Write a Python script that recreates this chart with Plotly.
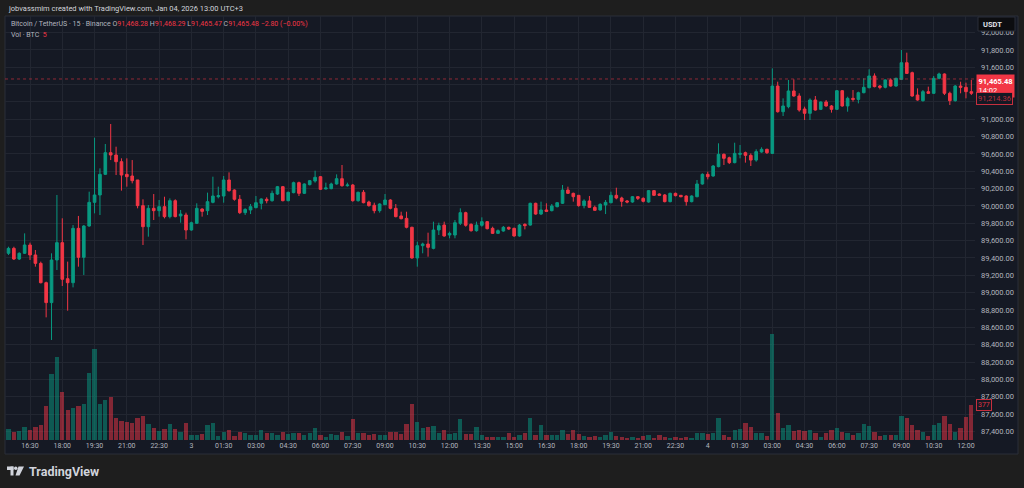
import plotly.graph_objects as go
import pandas as pd

# ---------------- data ----------------
start_time = "2026-01-02 15:30"
open_ = [89454, 89511, 89388, 89454, 89550, 89435, 89338, 89115, 88885, 89377,
         89577, 89161, 89115, 89742, 89408, 89769, 90042, 90127, 90365, 90615,
         90588, 90511, 90365, 90346, 90300, 90004, 89761, 89973, 89946, 89992,
         89877, 90061, 89885, 89896, 89723, 89800, 89965, 89946, 90042, 90107,
         90115, 90300, 90184, 90077, 89923, 89954, 89981, 90031, 90077, 90061,
         90138, 90223, 90061, 90154, 90269, 90146, 90246, 90288, 90338, 90196,
         90200, 90254, 90315, 90234, 90242, 90061, 90158, 90046, 90008, 89946,
         90015, 90069, 89973, 89885, 89857, 89754, 89400, 89542, 89561, 89511,
         89723, 89780, 89665, 89665, 89800, 89923, 89788, 89715, 89777, 89819,
         89742, 89684, 89711, 89754, 89742, 89654, 89788, 89780, 90031, 89907,
         89954, 89946, 89992, 90031, 90184, 90146, 90123, 90004, 90058, 89984,
         89954, 90011, 90038, 90123, 90092, 90058, 90046, 90107, 90088, 90046,
         90177, 90138, 90127, 90050, 90146, 90123, 90115, 90050, 90107, 90254,
         90365, 90346, 90454, 90596, 90557, 90500, 90596, 90615, 90584, 90530,
         90623, 90654, 90607, 91384, 91088, 91146, 91327, 91269, 91119, 91069,
         91223, 91115, 91200, 91154, 91115, 91330, 91154, 91242, 91230, 91307,
         91365, 91500, 91384, 91369, 91454, 91384, 91461, 91653, 91538, 91280,
         91215, 91319, 91300, 91473, 91523, 91300, 91215, 91384, 91369, 91319]
high = [89530, 89530, 89465, 89684, 89577, 89492, 89358, 89127, 89454, 90127,
        89858, 89358, 89780, 89885, 89780, 90165, 90788, 90434, 90715, 90946,
        90684, 90550, 90550, 90530, 90300, 90077, 90011, 90138, 90069, 90107,
        90088, 90077, 89954, 89923, 89819, 90031, 89973, 90154, 90338, 90223,
        90346, 90388, 90192, 90127, 89973, 90023, 90115, 90088, 90100, 90177,
        90231, 90231, 90165, 90281, 90281, 90261, 90300, 90407, 90346, 90269,
        90269, 90365, 90473, 90269, 90254, 90165, 90184, 90061, 90038, 90031,
        90138, 90077, 90023, 89934, 89934, 89761, 89588, 89577, 89692, 89819,
        89807, 89819, 89704, 89838, 89973, 89934, 89800, 89819, 89869, 89827,
        89761, 89730, 89769, 89761, 89750, 89792, 89800, 90038, 90038, 90050,
        90031, 90023, 90046, 90242, 90223, 90154, 90127, 90077, 90115, 90004,
        90031, 90069, 90165, 90211, 90107, 90069, 90115, 90115, 90100, 90184,
        90184, 90146, 90138, 90154, 90154, 90127, 90123, 90123, 90300, 90377,
        90396, 90473, 90723, 90607, 90569, 90730, 90704, 90627, 90607, 90654,
        90677, 90661, 91588, 91434, 91242, 91454, 91461, 91300, 91146, 91242,
        91269, 91207, 91223, 91165, 91338, 91338, 91261, 91338, 91319, 91473,
        91577, 91530, 91396, 91461, 91473, 91480, 91800, 91769, 91550, 91357,
        91338, 91377, 91500, 91538, 91530, 91319, 91396, 91434, 91423, 91454]
low = [89435, 89377, 89377, 89446, 89377, 89300, 89107, 88715, 88454, 89261,
       89077, 88792, 89061, 89300, 89204, 89761, 89915, 89896, 90357, 90530,
       90357, 90177, 90223, 90261, 89973, 89550, 89646, 89838, 89877, 89857,
       89857, 89869, 89807, 89615, 89715, 89792, 89877, 89896, 90031, 90088,
       90038, 90165, 90061, 89907, 89896, 89907, 89973, 89961, 90031, 90050,
       90127, 90054, 90054, 90146, 90115, 90138, 90238, 90269, 90184, 90192,
       90192, 90246, 90223, 90223, 90050, 90050, 90031, 89992, 89915, 89923,
       90011, 89961, 89869, 89846, 89742, 89392, 89300, 89454, 89415, 89500,
       89665, 89646, 89627, 89627, 89780, 89761, 89704, 89704, 89761, 89730,
       89677, 89677, 89704, 89723, 89646, 89646, 89730, 89773, 89900, 89896,
       89934, 89938, 89984, 90023, 90138, 90050, 89992, 89973, 89981, 89946,
       89946, 89907, 90031, 90077, 89992, 90031, 90038, 90069, 90042, 90038,
       90115, 90119, 90042, 90042, 90111, 90100, 90004, 90042, 90100, 90246,
       90307, 90338, 90446, 90473, 90484, 90492, 90550, 90500, 90461, 90511,
       90615, 90600, 90600, 91077, 91038, 91127, 91261, 91088, 90992, 90992,
       91100, 91107, 91146, 91077, 91107, 91146, 91088, 91204, 91184, 91300,
       91357, 91369, 91346, 91357, 91377, 91377, 91454, 91523, 91261, 91215,
       91204, 91292, 91292, 91461, 91280, 91165, 91204, 91300, 91242, 91280]
close = [89511, 89388, 89454, 89550, 89435, 89338, 89115, 88885, 89377, 89577,
         89154, 89115, 89742, 89408, 89769, 90042, 90127, 90365, 90615, 90588,
         90511, 90357, 90338, 90292, 90004, 89761, 89973, 89946, 89992, 89877,
         90061, 89877, 89907, 89723, 89807, 89973, 89938, 90050, 90115, 90119,
         90300, 90177, 90077, 89923, 89961, 89992, 90038, 90081, 90061, 90146,
         90223, 90061, 90158, 90269, 90146, 90254, 90292, 90331, 90192, 90208,
         90254, 90315, 90234, 90242, 90061, 90158, 90038, 90004, 89946, 90023,
         90069, 89973, 89877, 89853, 89754, 89400, 89542, 89561, 89523, 89723,
         89773, 89654, 89684, 89807, 89923, 89777, 89715, 89780, 89819, 89738,
         89684, 89715, 89754, 89734, 89654, 89780, 89773, 90031, 89907, 89954,
         89938, 90000, 90038, 90184, 90146, 90107, 90004, 90058, 89984, 89950,
         90019, 90042, 90123, 90092, 90054, 90046, 90107, 90088, 90054, 90177,
         90123, 90123, 90050, 90146, 90119, 90107, 90050, 90115, 90254, 90365,
         90338, 90461, 90596, 90550, 90500, 90607, 90607, 90584, 90530, 90627,
         90654, 90615, 91384, 91088, 91154, 91327, 91269, 91107, 91069, 91223,
         91107, 91200, 91154, 91115, 91330, 91154, 91242, 91230, 91307, 91369,
         91500, 91377, 91369, 91454, 91384, 91473, 91653, 91530, 91269, 91223,
         91319, 91300, 91473, 91523, 91300, 91215, 91384, 91369, 91319, 91300]
volume = [115, 90, 97, 140, 108, 140, 162, 366, 714, 894,
          517, 327, 348, 363, 384, 718, 976, 391, 431, 467,
          233, 205, 197, 187, 233, 255, 176, 126, 97, 115,
          169, 115, 86, 187, 54, 54, 68, 158, 187, 43,
          90, 104, 43, 90, 79, 54, 54, 104, 79, 72,
          54, 90, 61, 75, 72, 54, 75, 133, 54, 32,
          61, 54, 90, 43, 223, 72, 79, 54, 68, 54,
          54, 90, 86, 68, 169, 384, 197, 126, 144, 147,
          79, 104, 61, 79, 230, 68, 68, 144, 50, 36,
          36, 32, 32, 72, 32, 50, 72, 241, 54, 158,
          54, 50, 50, 104, 61, 104, 68, 43, 32, 43,
          36, 54, 86, 43, 36, 25, 32, 25, 39, 50,
          25, 50, 32, 25, 36, 18, 32, 25, 72, 79,
          68, 72, 233, 50, 36, 104, 119, 187, 144, 72,
          72, 43, 1138, 294, 133, 162, 97, 108, 97, 104,
          72, 32, 79, 108, 133, 86, 79, 50, 79, 169,
          151, 86, 43, 54, 54, 50, 258, 241, 158, 104,
          86, 43, 158, 187, 255, 169, 90, 133, 248, 377]
tick_labels = ["16:30", "18:00", "19:30", "21:00", "22:30", "3", "01:30", "03:00",
               "04:30", "06:00", "07:30", "09:00", "10:30", "12:00", "13:30", "15:00",
               "16:30", "18:00", "19:30", "21:00", "22:30", "4", "01:30", "03:00",
               "04:30", "06:00", "07:30", "09:00", "10:30", "12:00"]
first_tick = "2026-01-02 16:30"
price_ticks = [87400, 87600, 87800, 88000, 88200, 88400, 88600, 88800, 89000, 89200,
               89400, 89600, 89800, 90000, 90200, 90400, 90600, 90800, 91000, 91200,
               91400, 91600, 91800, 92000]
hidden_price_ticks = [91200, 91400]   # covered by the price tags in the reference
header_ohlc = ["91,468.28", "91,468.29", "91,465.47", "91,465.48"]
header_change = "\u22122.80 (\u22120.00%)"
header_vol = "5"
last_price = 91465.48
last_price_text = "91,465.48"
countdown_text = "14:02"
second_price = 91214.36
second_price_text = "91,214.36"
last_volume = 377

# ---------------- styling ----------------
UP = "#089981"
DOWN = "#f23645"
UP_VOL = "rgba(8,153,129,0.5)"
DOWN_VOL = "rgba(242,54,69,0.5)"
PANEL = "#151924"
OUTER = "#1e1e1e"
GRID = "#222631"
TXT = "#b2b5be"
FONT = "Roboto"

W, H = 1024, 488
L_M, R_M, T_M, B_M = 5, 49, 16, 48
PW, PH = W - L_M - R_M, H - T_M - B_M


def pxx(x):
    return (x - L_M) / PW


def pxy(y):
    return (H - B_M - y) / PH


times = pd.date_range(start_time, periods=len(close), freq="15min")
tick_times = pd.date_range(first_tick, periods=len(tick_labels), freq="90min")
step = pd.Timedelta(minutes=15)
x_range = [times[0] - 0.65 * step, times[0] + 179.68 * step]

vol_colors = [UP_VOL if c >= o else DOWN_VOL for o, c in zip(open_, close)]
price_tick_text = ["" if v in hidden_price_ticks else f"{v:,.2f}" for v in price_ticks]

fig = go.Figure()
fig.add_trace(go.Bar(
    x=times, y=volume, yaxis="y2", marker=dict(color=vol_colors, line=dict(width=0)),
    width=0.8 * step.total_seconds() * 1000, showlegend=False, hoverinfo="skip"))
fig.add_trace(go.Candlestick(
    x=times, open=open_, high=high, low=low, close=close,
    increasing=dict(line=dict(color=UP, width=1), fillcolor=UP),
    decreasing=dict(line=dict(color=DOWN, width=1), fillcolor=DOWN),
    whiskerwidth=0, showlegend=False, yaxis="y"))

shapes = [
    # chart panel
    dict(type="rect", xref="paper", yref="paper", x0=pxx(5), x1=pxx(1018),
         y0=pxy(454), y1=pxy(16), fillcolor=PANEL, line=dict(color="#2a2e39", width=1),
         layer="below"),
    # last price dotted line
    dict(type="line", xref="paper", yref="y", x0=0, x1=1, y0=last_price, y1=last_price,
         line=dict(color="rgba(242,54,69,0.55)", width=1, dash="dot")),
    # USDT box
    dict(type="rect", xref="paper", yref="paper", x0=pxx(978), x1=pxx(1015),
         y0=pxy(31), y1=pxy(17), fillcolor="#0c0d10", line=dict(color="#2a2e39", width=1)),
    # TradingView logo glyph
    dict(type="rect", xref="paper", yref="paper", x0=pxx(7), x1=pxx(13.5),
         y0=pxy(470), y1=pxy(466.5), fillcolor="#d1d4dc", line=dict(width=0)),
    dict(type="rect", xref="paper", yref="paper", x0=pxx(10.5), x1=pxx(13.5),
         y0=pxy(475.5), y1=pxy(466.5), fillcolor="#d1d4dc", line=dict(width=0)),
    dict(type="circle", xref="paper", yref="paper", x0=pxx(14), x1=pxx(17.5),
         y0=pxy(470), y1=pxy(466.5), fillcolor="#d1d4dc", line=dict(width=0)),
    dict(type="path", xref="paper", yref="paper",
         path=(f"M {pxx(18.5)} {pxy(466.5)} L {pxx(24)} {pxy(466.5)} "
               f"L {pxx(19.5)} {pxy(475.5)} L {pxx(15.5)} {pxy(475.5)} Z"),
         fillcolor="#d1d4dc", line=dict(width=0)),
]

red = lambda s: f"<span style='color:{DOWN}'>{s}</span>"
legend_line = ("Bitcoin / TetherUS \u00b7 15 \u00b7 Binance "
               f"O{red(header_ohlc[0])} H{red(header_ohlc[1])} "
               f"L{red(header_ohlc[2])} C{red(header_ohlc[3])} {red(header_change)}")

annotations = [
    dict(text="jobvassmim created with TradingView.com, Jan 04, 2026 13:00 UTC+3",
         xref="paper", yref="paper", x=pxx(6), y=pxy(8), xanchor="left", yanchor="middle",
         showarrow=False, font=dict(family=FONT, size=7.5, color="#d1d4dc")),
    dict(text=legend_line, xref="paper", yref="paper", x=pxx(9), y=pxy(24),
         xanchor="left", yanchor="middle", showarrow=False,
         font=dict(family=FONT, size=7, color=TXT)),
    dict(text=f"Vol \u00b7 BTC  {red(header_vol)}", xref="paper", yref="paper",
         x=pxx(9), y=pxy(35), xanchor="left", yanchor="middle", showarrow=False,
         font=dict(family=FONT, size=7, color=TXT)),
    dict(text="<b>USDT</b>", xref="paper", yref="paper", x=pxx(981), y=pxy(24),
         xanchor="left", yanchor="middle", showarrow=False,
         font=dict(family=FONT, size=7.5, color="#e0e3eb")),
    dict(text=f"<b>{last_price_text}</b><br>{countdown_text}", xref="paper", yref="y",
         x=pxx(976), y=last_price, xanchor="left", yanchor="top", yshift=5,
         align="left", showarrow=False, bgcolor=DOWN, borderpad=1.5,
         font=dict(family=FONT, size=7.5, color="#ffffff")),
    dict(text=second_price_text, xref="paper", yref="paper", x=pxx(976), y=pxy(98.5),
         xanchor="left", yanchor="middle", showarrow=False, bgcolor=PANEL,
         bordercolor="rgba(242,54,69,0.8)", borderwidth=1, borderpad=1,
         font=dict(family=FONT, size=7.5, color="rgba(242,54,69,0.75)")),
    dict(text=str(last_volume), xref="paper", yref="y2", x=pxx(976), y=last_volume,
         xanchor="left", yanchor="middle", showarrow=False, bgcolor=PANEL,
         bordercolor="rgba(242,54,69,0.8)", borderwidth=1, borderpad=1,
         font=dict(family=FONT, size=7, color="rgba(242,54,69,0.9)")),
    dict(text="<b>TradingView</b>", xref="paper", yref="paper", x=pxx(27), y=pxy(471),
         xanchor="left", yanchor="middle", showarrow=False,
         font=dict(family=FONT, size=12.5, color="#d1d4dc")),
]

fig.update_layout(
    width=W, height=H,
    margin=dict(l=L_M, r=R_M, t=T_M, b=B_M),
    paper_bgcolor=OUTER, plot_bgcolor="rgba(0,0,0,0)",
    font=dict(family=FONT, color=TXT),
    showlegend=False, bargap=0,
    shapes=shapes, annotations=annotations,
    xaxis=dict(type="date", range=x_range, tickvals=tick_times, ticktext=tick_labels,
               showgrid=True, gridcolor=GRID, gridwidth=1, zeroline=False, showline=False,
               ticks="", tickfont=dict(family=FONT, size=7, color=TXT),
               rangeslider=dict(visible=False), fixedrange=True),
    yaxis=dict(side="right", range=[87300, 92192], tickvals=price_ticks,
               ticktext=price_tick_text, showgrid=True, gridcolor=GRID, gridwidth=1,
               zeroline=False, showline=False, ticks="", ticklabelstandoff=5,
               tickfont=dict(family=FONT, size=7.5, color=TXT), fixedrange=True),
    yaxis2=dict(overlaying="y", range=[0, 4566], visible=False, fixedrange=True),
)

fig.write_html("out.html", config={"displayModeBar": False},
               post_script="document.body.style.margin='0';document.body.style.background='%s';" % OUTER)
